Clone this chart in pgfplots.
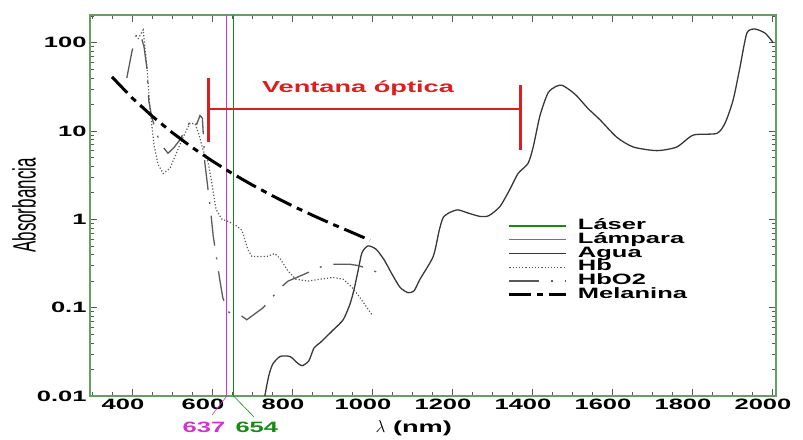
\documentclass[border=0pt]{standalone}
\usepackage{pgfplots}
\pgfplotsset{compat=1.18}
\usepackage{fontspec}
\setmainfont{Liberation Sans}[FakeStretch=1.7]
\newfontfamily\plainsf{Liberation Sans}
\definecolor{frame}{RGB}{100,160,100}
\definecolor{laser}{RGB}{20,140,20}
\definecolor{lamp}{RGB}{210,50,210}
\definecolor{vred}{RGB}{220,30,30}
\definecolor{agua}{RGB}{55,55,55}
\definecolor{hbc}{RGB}{90,90,90}
\begin{document}
\begin{tikzpicture}
\useasboundingbox (-90bp,-44bp) rectangle (713bp,396bp);
\begin{axis}[
  at={(0,0)}, anchor=south west,
  scale only axis, width=686bp, height=381bp,
  xmin=295, xmax=2010, ymode=log, ymin=0.01, ymax=206,
  axis line style={frame, line width=1.2pt},
  tick style={black!65, line width=0.6pt},
  major tick length=7bp, minor tick length=4bp,
  xtick={400,600,...,2000},
  xticklabels={400,600,800,1000,1200,1400,1600,1800,2000},
  minor xtick={300,350,...,2000},
  ytick={0.01,0.1,1,10,100},
  yticklabels={0.01,0.1,1,10,100},
  minor ytick={0.02,0.03,0.04,0.05,0.06,0.07,0.08,0.09,0.2,0.3,0.4,0.5,0.6,0.7,0.8,0.9,2,3,4,5,6,7,8,9,20,30,40,50,60,70,80,90,200},
  /pgf/number format/assume math mode=true,
  tick label style={font=\fontsize{15bp}{15bp}\selectfont\bfseries},
  xticklabel style={xshift=-9bp},
  xlabel={$\lambda$ (nm)},
  xlabel style={at={(axis description cs:0.472,0)}, yshift=-32bp, anchor=center, font=\fontsize{16bp}{16bp}\selectfont\bfseries},
  ylabel={\scalebox{1}[1.9]{\plainsf\fontsize{17bp}{17bp}\selectfont Absorbancia}},
  ylabel style={at={(axis description cs:0,0.5)}, yshift=66bp, anchor=center},
  clip=false,
  legend cell align=left,
  legend style={at={(axis description cs:0.609,0.465)}, anchor=north west,
    draw=none, fill=none, inner sep=0pt, row sep=0pt,
    font=\fontsize{15bp}{15bp}\selectfont\bfseries,
    nodes={inner sep=0pt, text height=10.5bp, text depth=3.3bp},
    /tikz/every odd column/.append style={column sep=10bp}},
  legend image code/.code={\draw[#1] (0bp,0bp) -- (57bp,0bp);},
]
% Laser
\addplot[laser, line width=1.2pt] coordinates {(654,0.01) (654,206)};
\addlegendentry{Láser}
% Lampara
\addplot[lamp, line width=1.1pt] coordinates {(637,0.01) (637,206)};
\addlegendentry{Lámpara}
% Agua
\addplot[agua, line width=1.3pt, smooth, tension=0.4] coordinates {
(732,0.01) (742,0.017) (752,0.023) (770,0.028) (795,0.028) (812,0.024)
(825,0.022) (842,0.025) (855,0.035) (870,0.040) (890,0.049) (903,0.056)
(928,0.073) (945,0.11) (955,0.16) (965,0.26) (975,0.42) (990,0.5)
(1010,0.46) (1030,0.35) (1050,0.24) (1070,0.17) (1090,0.148) (1105,0.155)
(1120,0.21) (1153,0.38) (1168,0.75) (1178,1.05) (1195,1.2) (1215,1.28)
(1240,1.18) (1270,1.08) (1292,1.1) (1320,1.4) (1345,2.2) (1365,3.3)
(1390,4.3) (1403,6.6) (1420,15) (1440,27) (1460,32) (1475,33) (1495,29)
(1512,25) (1540,18) (1570,13.4) (1612,8.5) (1653,6.6) (1712,6.0)
(1762,6.6) (1803,9.0) (1862,9.4) (1883,12.4) (1903,22.6) (1920,53)
(1937,128) (1957,143) (1983,128) (2003,100)};
\addlegendentry{Agua}
% Hb
\addplot[hbc, line width=1.2pt, dash pattern=on 1.2pt off 2pt] coordinates {
(415,110) (428,140) (437,55) (445,18) (455,7) (465,4.2) (478,3.3)
(495,3.8) (510,5.5) (525,8) (545,12.3) (558,12) (568,9) (578,6) (590,4.5)
(600,2.5) (610,1.3) (625,1.0) (640,0.95) (660,0.85) (675,0.75) (690,0.45)
(700,0.38) (737,0.38) (757,0.41) (770,0.36) (790,0.26) (810,0.21)
(840,0.2) (870,0.21) (903,0.22) (928,0.21) (950,0.17) (970,0.13) (1000,0.083)};
\addlegendentry{Hb}
% HbO2
\addplot[hbc, line width=1.3pt, dash pattern=on 30bp off 12bp on 2bp off 12bp] coordinates {
(387,40) (400,80) (412,128) (420,130) (430,90) (437,53) (442,22) (450,14)
(460,10) (470,7.3) (490,5.6) (505,6.5) (520,8) (537,11) (550,14) (562,12)
(570,15) (576,14) (582,4.4) (590,2.2) (597,1.2) (603,0.65) (612,0.35)
(620,0.2) (627,0.13) (640,0.09) (657,0.083) (675,0.08) (687,0.073)
(728,0.1) (750,0.13) (770,0.166) (790,0.2) (812,0.22) (840,0.25)
(862,0.28) (895,0.31) (920,0.31) (945,0.31) (965,0.3) (987,0.28) (1015,0.25)};
\addlegendentry{HbO2}
% Melanina
\addplot[black, line width=3pt, dash pattern=on 22bp off 6bp on 6bp off 6bp] coordinates {
(350,41) (400,23.8) (450,14.8) (500,9.64) (550,6.54) (600,4.60) (650,3.32)
(700,2.46) (750,1.86) (800,1.43) (850,1.12) (900,0.886) (950,0.711) (995,0.58)};
\addlegendentry{Melanina}
% Ventana optica
\draw[vred, line width=3pt] (axis cs:592,7.5) -- (axis cs:592,40);
\draw[vred, line width=2pt] (axis cs:592,17.8) -- (axis cs:1372,17.8);
\draw[vred, line width=3pt] (axis cs:1372,6.1) -- (axis cs:1372,33);
\node[text=vred, font=\fontsize{16bp}{16bp}\selectfont\bfseries] at (axis cs:965,30.7) {Ventana óptica};
% wavelength markers
\draw[lamp, line width=0.6pt] (axis cs:637,0.01) -- ([yshift=-19bp]axis cs:600,0.01);
\draw[laser, line width=0.6pt] (axis cs:654,0.01) -- ([yshift=-21bp]axis cs:705,0.01);
\node[text=lamp, font=\fontsize{15bp}{15bp}\selectfont\bfseries] at ([yshift=-31bp]axis cs:580,0.01) {637};
\node[text=laser, font=\fontsize{15bp}{15bp}\selectfont\bfseries] at ([yshift=-31bp]axis cs:712,0.01) {654};
\end{axis}
\end{tikzpicture}
\end{document}
